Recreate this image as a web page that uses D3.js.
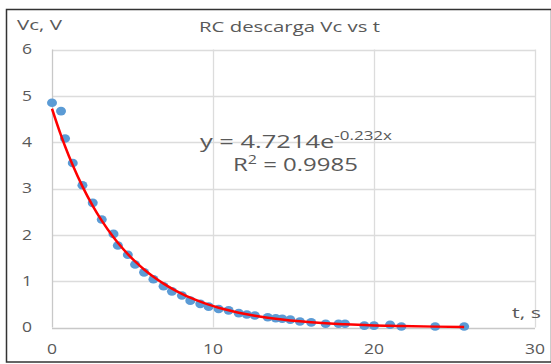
<!DOCTYPE html>
<html>
<head>
<meta charset="utf-8">
<script src="https://cdn.jsdelivr.net/npm/d3@7"></script>
<style>
  body { margin: 0; background: #fff; }
  text { font-family: "Open Sans", "Liberation Sans", sans-serif; fill: #595959; }
</style>
</head>
<body>
<div id="chart"></div>
<script>
// measured points, t in s and Vc in V
const tValues = [0, 0.56, 0.81, 1.29, 1.89, 2.53, 3.09, 3.82, 4.09, 4.71, 5.16, 5.72, 6.3, 6.93, 7.45,
  8.07, 8.59, 9.21, 9.73, 10.35, 10.97, 11.6, 12.1, 12.6, 13.4, 13.9, 14.3, 14.8, 15.4, 16.1,
  17.0, 17.8, 18.2, 19.4, 20.0, 21.0, 21.7, 23.8, 25.6];
const vcValues = [4.85, 4.67, 4.08, 3.55, 3.07, 2.69, 2.33, 2.02, 1.77, 1.57, 1.36, 1.19, 1.04, 0.89, 0.78,
  0.69, 0.58, 0.51, 0.45, 0.40, 0.37, 0.31, 0.28, 0.26, 0.22, 0.20, 0.19, 0.17, 0.13, 0.11,
  0.08, 0.08, 0.08, 0.04, 0.04, 0.06, 0.02, 0.02, 0.02];
const xTicks = [0, 10, 20, 30];
const yTicks = [0, 1, 2, 3, 4, 5, 6];
// exponential trendline as shown on the chart
const fitA = 4.7214;
const fitB = -0.232;

const width = 551, height = 364;
const svg = d3.select('#chart').append('svg')
  .attr('width', width)
  .attr('height', height);

// the picture is a bit stretched sideways, so text is widened to match
function placeText(sel, x0, y0, targetWidth) {
  const w = sel.node().getComputedTextLength();
  sel.attr('x', 0).attr('y', 0)
    .attr('transform', `translate(${x0},${y0}) scale(${targetWidth / w},1)`);
}

// outer frame
svg.append('rect')
  .attr('x', 6.5).attr('y', 9.5)
  .attr('width', 545).attr('height', 352.5)
  .attr('fill', 'none')
  .attr('stroke', '#333')
  .attr('stroke-width', 1.5);

const x = d3.scaleLinear().domain([0, 30]).range([52, 535]);
const y = d3.scaleLinear().domain([0, 6]).range([327.5, 49.5]);

// grid
svg.append('g').selectAll('line').data(yTicks).join('line')
  .attr('x1', x(0)).attr('x2', x(30))
  .attr('y1', d => Math.round(y(d)) + 0.5).attr('y2', d => Math.round(y(d)) + 0.5)
  .attr('stroke', d => d === 0 ? '#c8c8c8' : '#dcdcdc')
  .attr('stroke-width', 1.3);

svg.append('g').selectAll('line').data(xTicks).join('line')
  .attr('x1', d => Math.round(x(d)) + 0.5).attr('x2', d => Math.round(x(d)) + 0.5)
  .attr('y1', y(0)).attr('y2', y(6))
  .attr('stroke', d => d === 0 ? '#c8c8c8' : '#dcdcdc')
  .attr('stroke-width', 1.3);

// tick labels
svg.append('g').selectAll('text').data(yTicks).join('text')
  .attr('text-anchor', 'middle')
  .attr('dy', '0.35em')
  .style('font-size', '14px')
  .attr('transform', d => `translate(27,${y(d)}) scale(1.25,1)`)
  .text(d => d);

svg.append('g').selectAll('text').data(xTicks).join('text')
  .attr('text-anchor', 'middle')
  .attr('dy', '0.35em')
  .style('font-size', '14px')
  .attr('transform', d => `translate(${x(d)},349) scale(1.25,1)`)
  .text(d => d);

// titles
const title = svg.append('text').style('font-size', '14px').text('RC descarga Vc vs t');
placeText(title, 199, 32, 181);

const yLab = svg.append('text').style('font-size', '14px').text('Vc, V');
placeText(yLab, 17, 30, 45);

const xLab = svg.append('text').style('font-size', '14px').text('t, s');
placeText(xLab, 512, 318, 29);

// points
svg.append('g').selectAll('ellipse').data(tValues).join('ellipse')
  .attr('cx', d => x(d))
  .attr('cy', (d, i) => y(vcValues[i]))
  .attr('rx', 5).attr('ry', 4.3)
  .attr('fill', '#5b9bd5');

// trendline evaluated at the measured times
const line = d3.line()
  .x(d => x(d))
  .y(d => y(fitA * Math.exp(fitB * d)))
  .curve(d3.curveMonotoneX);

svg.append('path')
  .datum(tValues)
  .attr('fill', 'none')
  .attr('stroke', '#ff0000')
  .attr('stroke-width', 2.5)
  .attr('d', line);

// equation label
const eq = svg.append('text').style('font-size', '18px');
eq.append('tspan').text('y = 4.7214e');
eq.append('tspan').attr('dy', -8).style('font-size', '12px').text('-0.232x');
placeText(eq, 200, 148, 192);

const r2 = svg.append('text').style('font-size', '18px');
r2.append('tspan').text('R');
r2.append('tspan').attr('dy', -7).style('font-size', '12px').text('2');
r2.append('tspan').attr('dy', 7).text(' = 0.9985');
placeText(r2, 233, 171, 125);
</script>
</body>
</html>
